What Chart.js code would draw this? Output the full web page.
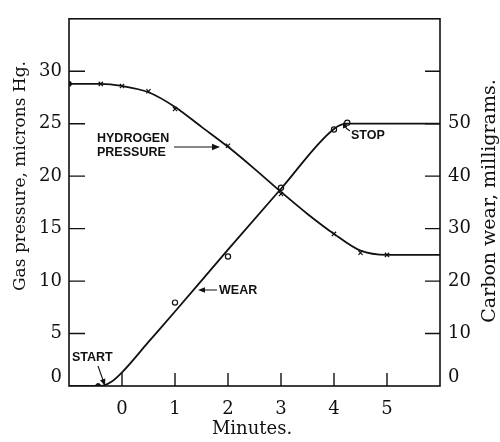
<!DOCTYPE html>
<html>
<head>
<meta charset="utf-8">
<script src="https://cdn.jsdelivr.net/npm/chart.js@4"></script>
<style>
  html, body { margin: 0; padding: 0; background: #fff; }
  #wrap { width: 500px; height: 442px; }
</style>
</head>
<body>
<div id="wrap"><canvas id="chart" width="500" height="442"></canvas></div>
<script>
// Hydrogen pressure (left axis, microns Hg) - smooth curve
const hydrogenCurveX = [-1, -0.4, 0, 0.5, 1, 1.5, 2, 2.5, 3, 3.5, 4, 4.5, 5, 6];
const hydrogenCurveY = [28.8, 28.8, 28.6, 28.0, 26.6, 24.7, 22.8, 20.7, 18.5, 16.4, 14.5, 12.9, 12.5, 12.5];
// Hydrogen pressure readings (x marks)
const hydrogenMarkX = [-0.4, 0, 0.5, 1, 2, 3, 4, 4.5, 5];
const hydrogenMarkY = [28.8, 28.6, 28.1, 26.4, 22.9, 18.3, 14.5, 12.7, 12.5];

// Carbon wear (right axis, milligrams) - drawn curve
const wearCurveX = [-1, -0.4, -0.2, 0, 0.5, 1, 2, 3, 4, 4.25, 6];
const wearCurveY = [0, 0, 0.8, 2.6, 8.4, 14.2, 26.0, 37.6, 49.0, 50.0, 50.0];
// Carbon wear readings (open circles)
const wearMarkX = [1, 2, 3, 4, 4.25];
const wearMarkY = [15.9, 24.7, 37.8, 48.9, 50.2];

// axis ranges / ticks
const minuteTicks = [0, 1, 2, 3, 4, 5];
const pressureTicks = [5, 10, 15, 20, 25, 30];
const wearTicks = [10, 20, 30, 40, 50, 60];

function pts(xs, ys) {
  return xs.map((x, i) => ({ x: x, y: ys[i] }));
}

const serif = '"DejaVu Serif", "Liberation Serif", serif';
const ink = '#111';

function arrowHead(ctx, x, y, ang, size) {
  ctx.save();
  ctx.translate(x, y);
  ctx.rotate(ang);
  ctx.beginPath();
  ctx.moveTo(0, 0);
  ctx.lineTo(-size, -size * 0.4);
  ctx.lineTo(-size, size * 0.4);
  ctx.closePath();
  ctx.fill();
  ctx.restore();
}

const decorPlugin = {
  id: 'decor',
  afterDraw(chart) {
    const ctx = chart.ctx;
    const a = chart.chartArea;
    const sx = chart.scales.x, sy = chart.scales.y, sy1 = chart.scales.y1;
    ctx.save();
    ctx.strokeStyle = ink;
    ctx.fillStyle = ink;

    // frame
    ctx.lineWidth = 1.6;
    ctx.strokeRect(a.left, a.top, a.right - a.left, a.bottom - a.top);

    // inward ticks
    ctx.lineWidth = 1.4;
    ctx.beginPath();
    minuteTicks.forEach(v => {
      const p = sx.getPixelForValue(v);
      ctx.moveTo(p, a.bottom); ctx.lineTo(p, a.bottom - 13);
    });
    pressureTicks.forEach(v => {
      const p = sy.getPixelForValue(v);
      ctx.moveTo(a.left, p); ctx.lineTo(a.left + 16, p);
    });
    wearTicks.forEach(v => {
      const p = sy1.getPixelForValue(v);
      ctx.moveTo(a.right, p); ctx.lineTo(a.right - 15, p);
    });
    ctx.stroke();

    // the two zero labels sit a little above the baseline
    ctx.font = '18px ' + serif;
    ctx.textBaseline = 'middle';
    ctx.textAlign = 'right';
    ctx.fillText('0', a.left - 7, sy.getPixelForValue(0) - 9);
    ctx.textAlign = 'left';
    ctx.fillText('0', a.right + 8, sy1.getPixelForValue(0) - 9);

    // axis titles
    ctx.textAlign = 'center';
    ctx.font = '17px ' + serif;
    ctx.save();
    ctx.translate(21, 176);
    ctx.rotate(-Math.PI / 2);
    ctx.fillText('Gas pressure, microns Hg.', 0, 0);
    ctx.restore();
    ctx.font = '19px ' + serif;
    ctx.save();
    ctx.translate(490, 201);
    ctx.rotate(-Math.PI / 2);
    ctx.fillText('Carbon wear, milligrams.', 0, 0);
    ctx.restore();
    ctx.font = '18px ' + serif;
    ctx.fillText('Minutes.', 252, 429);

    // annotations
    ctx.font = 'bold 12.5px "Liberation Sans", Arial, sans-serif';
    ctx.textAlign = 'left';
    ctx.fillText('HYDROGEN', 97, 139);
    ctx.fillText('PRESSURE', 97, 153);
    ctx.fillText('WEAR', 219, 291);
    ctx.fillText('STOP', 351, 136);
    ctx.fillText('START', 72, 358);

    ctx.lineWidth = 1.1;
    ctx.beginPath();
    ctx.moveTo(174, 147); ctx.lineTo(212, 147);
    ctx.moveTo(217, 290); ctx.lineTo(204, 290);
    ctx.moveTo(98, 366); ctx.lineTo(103, 380);
    ctx.moveTo(350, 131); ctx.quadraticCurveTo(346, 129, 345, 126);
    ctx.stroke();
    arrowHead(ctx, 220, 147, 0, 8);
    arrowHead(ctx, 198, 290, Math.PI, 7);
    arrowHead(ctx, 105, 386, Math.atan2(20, 7), 7);
    arrowHead(ctx, 343, 122, Math.atan2(-5, -2), 6);

    ctx.restore();
  }
};

const ctx = document.getElementById('chart').getContext('2d');
const chart = new Chart(ctx, {
  type: 'scatter',
  data: {
    datasets: [
      {
        data: pts(hydrogenCurveX, hydrogenCurveY),
        yAxisID: 'y',
        showLine: true,
        cubicInterpolationMode: 'monotone',
        borderColor: ink,
        borderWidth: 1.8,
        pointRadius: 0
      },
      {
        data: pts(hydrogenMarkX, hydrogenMarkY),
        yAxisID: 'y',
        pointStyle: 'crossRot',
        pointRadius: 3,
        borderColor: ink,
        borderWidth: 1.2
      },
      {
        data: pts(wearCurveX, wearCurveY),
        yAxisID: 'y1',
        showLine: true,
        cubicInterpolationMode: 'monotone',
        borderColor: ink,
        borderWidth: 1.8,
        pointRadius: 0
      },
      {
        data: pts(wearMarkX, wearMarkY),
        yAxisID: 'y1',
        pointStyle: 'circle',
        pointRadius: 2.6,
        backgroundColor: '#fff',
        borderColor: ink,
        borderWidth: 1.2
      },
      {
        // filled start dots
        data: [{ x: -1, y: 28.8 }],
        yAxisID: 'y',
        pointRadius: 2.5,
        backgroundColor: ink,
        borderColor: ink
      },
      {
        data: [{ x: -0.45, y: 0 }],
        yAxisID: 'y1',
        pointRadius: 2.5,
        backgroundColor: ink,
        borderColor: ink
      }
    ]
  },
  options: {
    responsive: false,
    animation: false,
    layout: { padding: { top: 14, left: 0, right: 0, bottom: 0 } },
    plugins: {
      legend: { display: false },
      tooltip: { enabled: false }
    },
    scales: {
      x: {
        type: 'linear',
        min: -1,
        max: 6,
        grid: { display: false, drawTicks: false },
        border: { display: false },
        ticks: {
          stepSize: 1,
          padding: 13,
          color: ink,
          font: { family: serif, size: 18 },
          callback: v => (v < 0 || v > 5) ? '' : v
        },
        afterFit: s => { s.height = 56; }
      },
      y: {
        position: 'left',
        min: 0,
        max: 35,
        grid: { display: false, drawTicks: false },
        border: { display: false },
        ticks: {
          stepSize: 5,
          padding: 7,
          color: ink,
          font: { family: serif, size: 18 },
          callback: v => (v === 0 || v > 30) ? '' : v
        },
        afterFit: s => { s.width = 69; }
      },
      y1: {
        position: 'right',
        min: 0,
        max: 70,
        grid: { display: false, drawTicks: false },
        border: { display: false },
        ticks: {
          stepSize: 10,
          padding: 8,
          color: ink,
          font: { family: serif, size: 18 },
          callback: v => (v === 0 || v > 50) ? '' : v
        },
        afterFit: s => { s.width = 60; }
      }
    }
  },
  plugins: [decorPlugin]
});
</script>
</body>
</html>
